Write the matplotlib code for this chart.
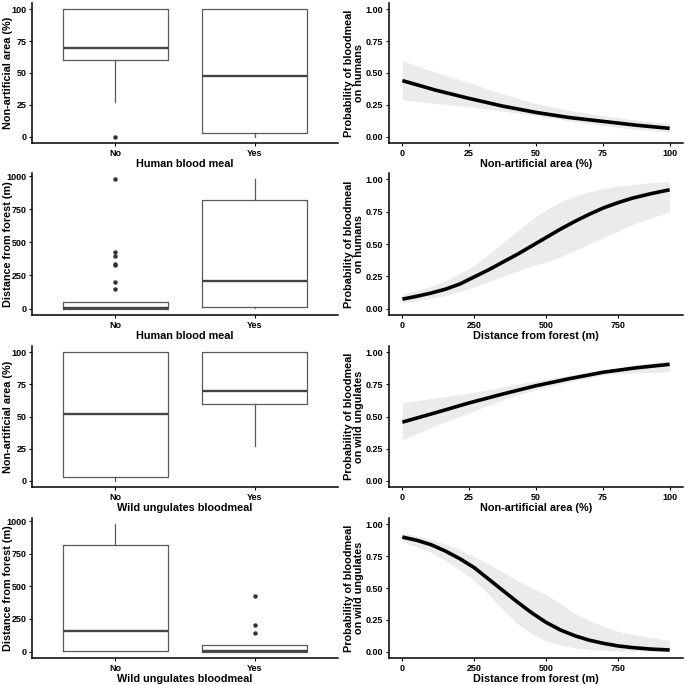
import numpy as np
import matplotlib
matplotlib.use("Agg")
import matplotlib.pyplot as plt

plt.rcParams["font.family"] = ["Liberation Sans", "DejaVu Sans"]
plt.rcParams["font.weight"] = "bold"

GROUPS = ["No", "Yes"]

# boxplot stats: (whislo, q1, med, q3, whishi, fliers)
BOX_AREA_HUMAN = [(27, 60, 70, 100, 100, [0]),
                  (0, 3, 48, 100, 100, [])]
BOX_DIST_HUMAN = [(0, 0, 5, 50, 50, [975, 430, 400, 340, 330, 200, 145]),
                  (5, 10, 205, 820, 975, [])]
BOX_AREA_WILD = [(0, 3, 52, 100, 100, []),
                 (27, 60, 70, 100, 100, [])]
BOX_DIST_WILD = [(5, 8, 160, 820, 975, []),
                 (0, 0, 5, 50, 50, [430, 205, 145])]

# fitted curves
AREA_X = [0, 12.5, 25, 37.5, 50, 62.5, 75, 87.5, 100]
HUM_AREA_FIT = [0.44, 0.365, 0.30, 0.24, 0.19, 0.15, 0.12, 0.09, 0.065]
HUM_AREA_LO = [0.29, 0.26, 0.235, 0.20, 0.165, 0.125, 0.086, 0.058, 0.034]
HUM_AREA_HI = [0.595, 0.505, 0.425, 0.335, 0.26, 0.205, 0.165, 0.13, 0.104]

WILD_AREA_FIT = [0.456, 0.53, 0.606, 0.675, 0.74, 0.795, 0.845, 0.88, 0.907]
WILD_AREA_LO = [0.317, 0.43, 0.53, 0.63, 0.71, 0.77, 0.825, 0.84, 0.85]
WILD_AREA_HI = [0.61, 0.645, 0.683, 0.73, 0.78, 0.82, 0.86, 0.90, 0.94]

DIST_X = [0, 50, 100, 150, 200, 250, 300, 350, 400, 450, 500,
          550, 600, 650, 700, 750, 800, 865, 930]
HUM_DIST_FIT = [0.073, 0.095, 0.12, 0.15, 0.19, 0.245, 0.30, 0.36, 0.42, 0.485,
                0.55, 0.615, 0.675, 0.73, 0.78, 0.82, 0.855, 0.89, 0.92]
HUM_DIST_LO = [0.04, 0.06, 0.08, 0.10, 0.13, 0.17, 0.21, 0.25, 0.29, 0.33,
               0.36, 0.40, 0.45, 0.50, 0.55, 0.60, 0.65, 0.70, 0.75]
HUM_DIST_HI = [0.11, 0.14, 0.17, 0.215, 0.27, 0.335, 0.42, 0.51, 0.60, 0.69,
               0.765, 0.825, 0.87, 0.905, 0.93, 0.95, 0.96, 0.975, 0.98]

WILD_DIST_FIT = [0.90, 0.875, 0.84, 0.79, 0.73, 0.66, 0.57, 0.48, 0.39, 0.305,
                 0.23, 0.17, 0.125, 0.09, 0.065, 0.045, 0.032, 0.02, 0.013]
WILD_DIST_LO = [0.86, 0.825, 0.78, 0.715, 0.64, 0.56, 0.45, 0.33, 0.22, 0.14,
                0.086, 0.05, 0.03, 0.018, 0.01, 0.006, 0.004, 0.002, 0.0]
WILD_DIST_HI = [0.93, 0.91, 0.88, 0.845, 0.80, 0.745, 0.69, 0.625, 0.56, 0.50,
                0.45, 0.375, 0.30, 0.245, 0.20, 0.16, 0.135, 0.11, 0.09]

W = H = 685
fig = plt.figure(figsize=(6.85, 6.85), dpi=100, facecolor="white")

ROWS = [(3, 143), (173, 315), (346, 487), (518, 658)]
COLS = [(32, 338), (389, 683)]

TICK_FS = 6.5
LAB_FS = 7.8


def make_ax(r, c):
    top, bot = ROWS[r]
    l, rr = COLS[c]
    ax = fig.add_axes([l / W, 1 - bot / H, (rr - l) / W, (bot - top) / H])
    for s in ["top", "right"]:
        ax.spines[s].set_visible(False)
    for s in ["left", "bottom"]:
        ax.spines[s].set_linewidth(1.1)
    ax.tick_params(labelsize=TICK_FS, length=2.5, width=0.8, pad=1.5)
    return ax


def boxpanel(r, data, ylabel, xlabel, yticks, ylim):
    ax = make_ax(r, 0)
    stats = []
    for g, (wl, q1, med, q3, wh, fl) in zip(GROUPS, data):
        stats.append(dict(label=g, whislo=wl, q1=q1, med=med, q3=q3,
                          whishi=wh, fliers=fl))
    ax.bxp(stats, positions=[1, 2], widths=0.75, showcaps=False,
           boxprops=dict(color="#5a5a5a", lw=0.9),
           whiskerprops=dict(color="#5a5a5a", lw=0.9),
           medianprops=dict(color="#444444", lw=1.7),
           flierprops=dict(marker="o", markersize=2.2, markerfacecolor="#333333",
                           markeredgecolor="#333333"))
    ax.set_xlim(0.4, 2.6)
    ax.set_ylim(*ylim)
    ax.set_yticks(yticks)
    ax.set_xticks([1, 2])
    ax.set_xticklabels(GROUPS, fontweight="bold", fontsize=TICK_FS)
    ax.set_yticklabels([str(v) for v in yticks], fontweight="bold", fontsize=TICK_FS)
    ax.set_ylabel(ylabel, fontsize=LAB_FS, fontweight="bold")
    ax.yaxis.set_label_coords(-0.063, 0.5)
    ax.set_xlabel(xlabel, fontsize=LAB_FS, fontweight="bold", labelpad=1)


def curvepanel(r, x, fit, lo, hi, ylabel, xlabel, xticks, xlim):
    ax = make_ax(r, 1)
    ax.fill_between(x, lo, hi, color="#EBEBEB", lw=0)
    ax.plot(x, fit, color="black", lw=2.6, solid_capstyle="butt")
    ax.set_xlim(*xlim)
    ax.set_ylim(-0.05, 1.05)
    yt = [0, 0.25, 0.5, 0.75, 1.0]
    ax.set_yticks(yt)
    ax.set_yticklabels(["0.00", "0.25", "0.50", "0.75", "1.00"],
                       fontweight="bold", fontsize=TICK_FS)
    ax.set_xticks(xticks)
    ax.set_xticklabels([str(v) for v in xticks], fontweight="bold", fontsize=TICK_FS)
    ax.set_ylabel(ylabel, fontsize=LAB_FS, fontweight="bold", linespacing=1.0)
    ax.yaxis.set_label_coords(-0.085, 0.5)
    ax.set_xlabel(xlabel, fontsize=LAB_FS, fontweight="bold", labelpad=1)


area_ticks = [0, 25, 50, 75, 100]
dist_ticks = [0, 250, 500, 750, 1000]

boxpanel(0, BOX_AREA_HUMAN, "Non-artificial area (%)", "Human blood meal",
         area_ticks, (-5, 105))
boxpanel(1, BOX_DIST_HUMAN, "Distance from forest (m)", "Human blood meal",
         dist_ticks, (-49, 1024))
boxpanel(2, BOX_AREA_WILD, "Non-artificial area (%)", "Wild ungulates bloodmeal",
         area_ticks, (-5, 105))
boxpanel(3, BOX_DIST_WILD, "Distance from forest (m)", "Wild ungulates bloodmeal",
         dist_ticks, (-49, 1024))

curvepanel(0, AREA_X, HUM_AREA_FIT, HUM_AREA_LO, HUM_AREA_HI,
           "Probability of bloodmeal\non humans", "Non-artificial area (%)",
           area_ticks, (-5, 105))
curvepanel(1, DIST_X, HUM_DIST_FIT, HUM_DIST_LO, HUM_DIST_HI,
           "Probability of bloodmeal\non humans", "Distance from forest (m)",
           [0, 250, 500, 750], (-46.5, 976.5))
curvepanel(2, AREA_X, WILD_AREA_FIT, WILD_AREA_LO, WILD_AREA_HI,
           "Probability of bloodmeal\non wild ungulates", "Non-artificial area (%)",
           area_ticks, (-5, 105))
curvepanel(3, DIST_X, WILD_DIST_FIT, WILD_DIST_LO, WILD_DIST_HI,
           "Probability of bloodmeal\non wild ungulates", "Distance from forest (m)",
           [0, 250, 500, 750], (-46.5, 976.5))

fig.savefig("out.png", dpi=100, facecolor="white")
